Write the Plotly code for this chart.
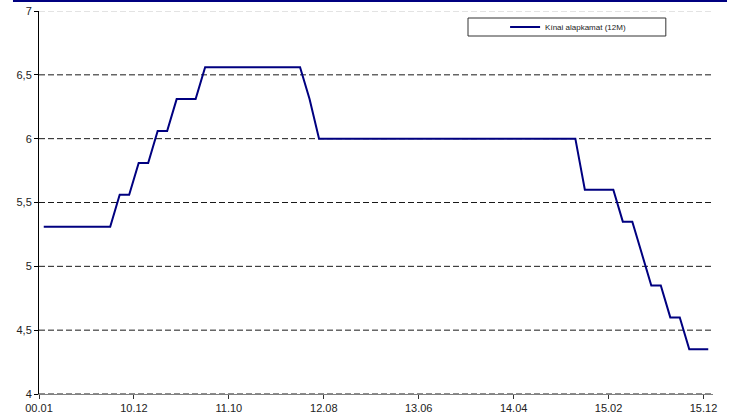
import plotly.graph_objects as go

# monthly 12M rate, one value per category (first category labelled 00.01, last 15.12)
rate = [5.31, 5.31, 5.31, 5.31, 5.31, 5.31, 5.31, 5.31,
        5.56, 5.56,
        5.81, 5.81,
        6.06, 6.06,
        6.31, 6.31, 6.31,
        6.56, 6.56, 6.56, 6.56, 6.56, 6.56, 6.56, 6.56, 6.56, 6.56, 6.56,
        6.31,
        6.00, 6.00, 6.00, 6.00, 6.00, 6.00, 6.00, 6.00, 6.00, 6.00,
        6.00, 6.00, 6.00, 6.00, 6.00, 6.00, 6.00, 6.00, 6.00, 6.00,
        6.00, 6.00, 6.00, 6.00, 6.00, 6.00, 6.00, 6.00,
        5.60, 5.60, 5.60, 5.60,
        5.35, 5.35,
        5.10,
        4.85, 4.85,
        4.60, 4.60,
        4.35, 4.35, 4.35]

tick_idx = [0, 10, 20, 30, 40, 50, 60, 70]
tick_labels = ["00.01", "10.12", "11.10", "12.08", "13.06", "14.04", "15.02", "15.12"]
y_ticks = [4, 4.5, 5, 5.5, 6, 6.5, 7]
grid_dark = [4, 4.5, 5, 5.5, 6, 6.5]
grid_light = [7]
series_name = "Kínai alapkamat (12M)"

W, H = 734, 416
x = list(range(len(rate)))

fig = go.Figure()
fig.add_trace(go.Scatter(
    x=x, y=rate, mode="lines", name=series_name,
    line=dict(color="#000080", width=2),
))

shapes = []
for g in grid_dark:
    shapes.append(dict(type="line", xref="paper", yref="y", x0=0, x1=1, y0=g, y1=g,
                       line=dict(color="#1a1a1a", width=1, dash="6px,3px"), layer="below"))
for g in grid_light:
    shapes.append(dict(type="line", xref="paper", yref="y", x0=0, x1=1, y0=g, y1=g,
                       line=dict(color="#c8c8c8", width=1, dash="6px,3px"), layer="below"))
# navy rule across the top of the page
shapes.append(dict(type="line", xref="paper", yref="paper", x0=-0.0386, x1=1.0208,
                   y0=1.0261, y1=1.0261, line=dict(color="#000080", width=2)))
# legend frame
shapes.append(dict(type="rect", xref="paper", yref="paper", x0=0.6365, x1=0.930,
                   y0=0.9347, y1=0.9817, fillcolor="white",
                   line=dict(color="#333333", width=1), layer="above"))

fig.update_layout(
    width=W, height=H, autosize=False,
    margin=dict(l=39, r=21, t=11, b=22),
    paper_bgcolor="white", plot_bgcolor="white",
    separators=",.",
    font=dict(family="Liberation Sans, Arial", size=11, color="#222222"),
    shapes=shapes,
    showlegend=True,
    legend=dict(x=0.785, y=0.958, xanchor="center", yanchor="middle",
                bgcolor="rgba(0,0,0,0)", borderwidth=0,
                font=dict(size=8, color="#222222"), itemwidth=30),
    xaxis=dict(
        range=[-0.5, len(rate) - 0.5], automargin=False,
        tickvals=[i - 0.5 for i in tick_idx], ticktext=tick_labels,
        showgrid=False, zeroline=False,
        showline=True, linecolor="#808080", linewidth=1,
        ticks="outside", ticklen=4, tickcolor="#333333",
    ),
    yaxis=dict(
        range=[4, 7], tickvals=y_ticks, automargin=False,
        showgrid=False, zeroline=False,
        showline=True, linecolor="black", linewidth=1,
        ticks="outside", ticklen=4, tickcolor="black",
    ),
)

# drop the browser's default body margin so the figure sits at the page corner
fig.write_html("out.html", config={"displayModeBar": False},
               post_script="document.body.style.margin='0';")
